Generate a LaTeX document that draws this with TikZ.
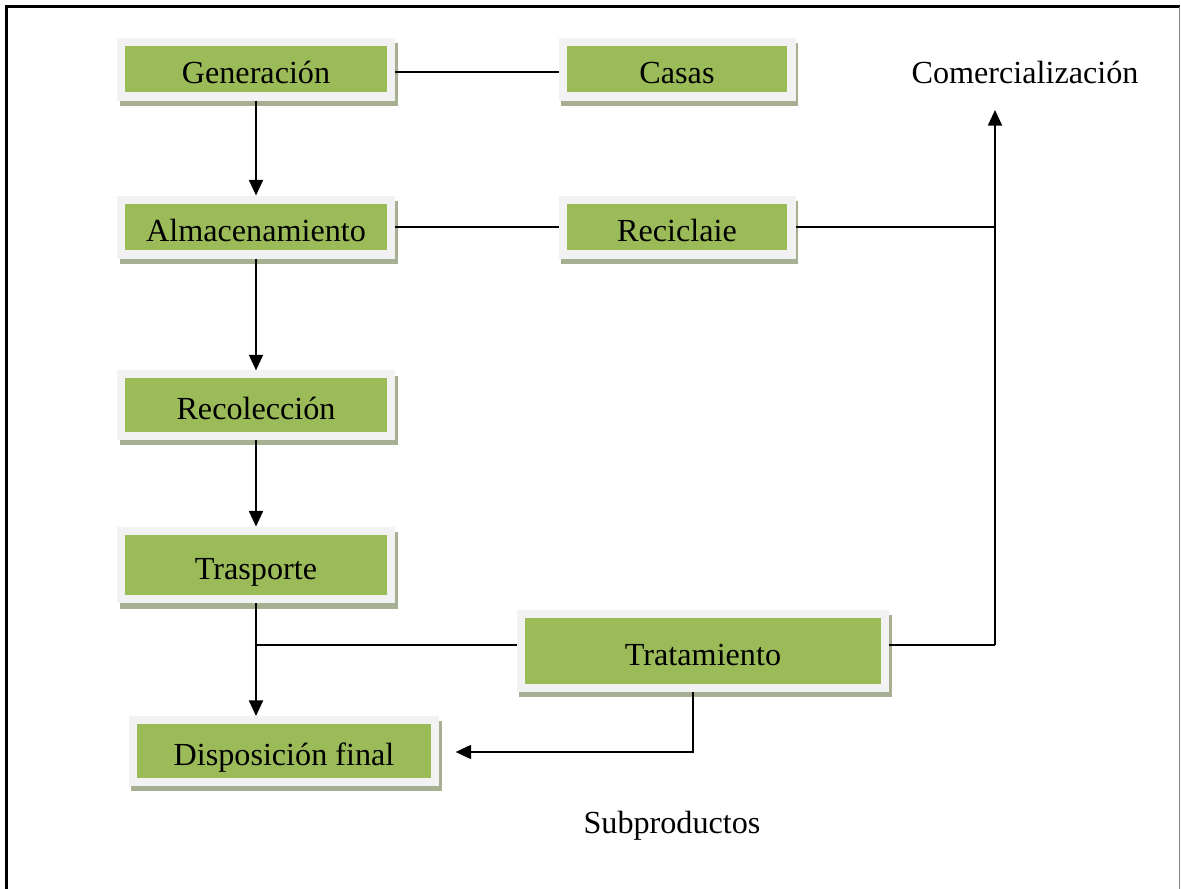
\documentclass[tikz,border=0pt]{standalone}
\usepackage{fontspec}
\setmainfont{Liberation Serif}
\usepackage{xcolor}
\usetikzlibrary{arrows.meta}

\definecolor{boxgreen}{HTML}{9BBB59}
\definecolor{boxrim}{HTML}{F2F2F2}
\definecolor{boxshadow}{HTML}{A7AF92}

\begin{document}
\begin{tikzpicture}[
x=0.373pt,y=-0.373pt,
box/.style={fill=boxgreen,draw=boxrim,line width=3pt,inner sep=0pt,
  text height=11pt,text depth=0.4pt,
  minimum width=100.7pt,minimum height=20.5pt,font=\fontsize{12}{14}\selectfont,
  preaction={fill=boxshadow,draw=boxshadow,line width=3pt,
    transform canvas={xshift=1.1pt,yshift=-1.9pt}}},
lbl/.style={font=\fontsize{12}{14}\selectfont,inner sep=0pt},
arrow/.style={-{Triangle[length=5.8pt,width=5.2pt]},line width=0.75pt},
link/.style={line width=0.45pt}
]
\useasboundingbox (0,0) rectangle (1181,889);
% marco
\draw[line width=0.75pt] (6.5,900) -- (6.5,6.5) -- (1179.5,6.5);
\draw[line width=0.5pt,gray] (1179.5,6.5) -- (1179.5,900);

\node[box] (gen) at (256,69) {Generación};
\node[box,minimum width=85.4pt] (cas) at (677,69) {Casas};
\node[box] (alm) at (256,227) {Almacenamiento};
\node[box,minimum width=85.4pt] (rcj) at (677,227) {Reciclaie};
\node[box,minimum height=22.8pt] (rcl) at (256,405) {Recolección};
\node[box,minimum height=25.7pt] (tra) at (256,565) {Trasporte};
\node[box,minimum width=136.1pt,minimum height=27.6pt] (trt) at (703,651) {Tratamiento};
\node[box,minimum width=113pt,minimum height=23.1pt] (dis) at (284,751) {Disposición final};

\node[lbl] (com) at (1025,72) {Comercialización};
\node[lbl] (sub) at (672,826) {Subproductos};

\coordinate (cmz) at (995,110);
\coordinate (cr) at (995,645);
\coordinate (jt) at (256,645);
\coordinate (sb) at (693,752);

\draw[link] (gen.east |- 0,72) -- (cas.west |- 0,72);
\draw[link] (alm) -- (rcj);
\draw[link] (rcj.east) -- (rcj.east -| cr);
\draw[link] (jt) -- (jt -| trt.west);
\draw[link] (cr -| trt.east) -- (cr);
\draw[arrow] (cr) -- (cmz);

\draw[arrow] (gen) -- (alm);
\draw[arrow] (alm) -- (rcl);
\draw[arrow] (rcl) -- (tra);
\draw[arrow] (tra.south) -- (tra.south |- dis.north);
\draw[arrow,shorten >=6pt] (sb |- trt.south) -- (sb) -- (dis.east |- sb);
\end{tikzpicture}
\end{document}
